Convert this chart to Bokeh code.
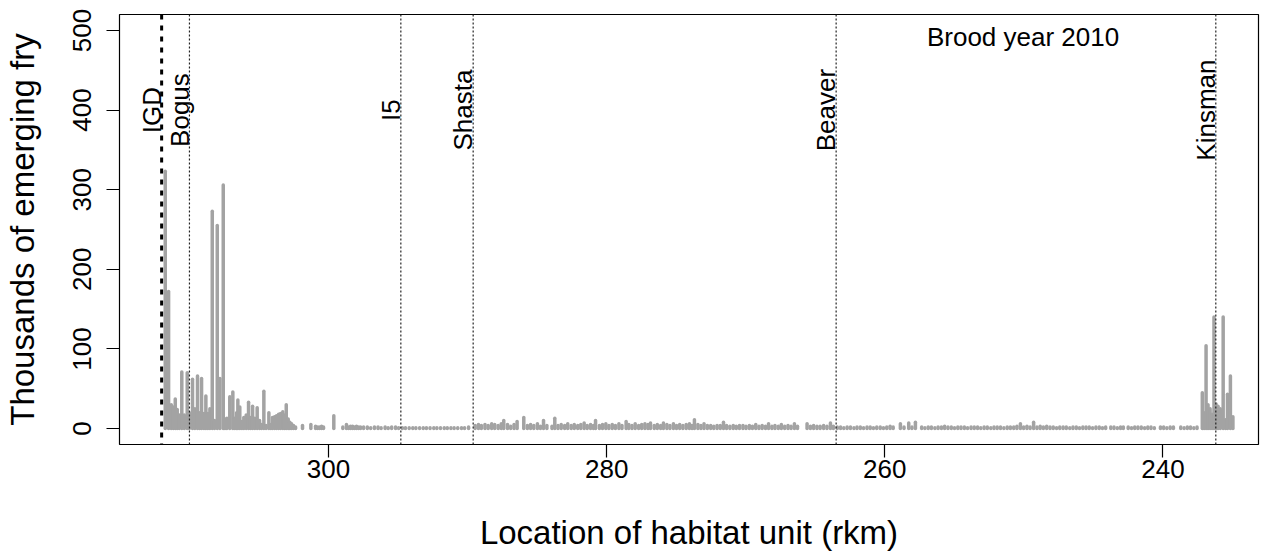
from math import pi

from bokeh.core.properties import value
from bokeh.embed import file_html
from bokeh.models import ColumnDataSource, FixedTicker, Range1d, Span
from bokeh.plotting import figure
from bokeh.resources import INLINE

# Emerging fry (thousands) per habitat unit, as (rkm, fry) pairs, by reach.
reach_igd_i5 = [
    (311.74, 323), (311.50, 172), (311.31, 30), (311.16, 27), (311.02, 37),
    (310.88, 24), (310.73, 17), (310.55, 71), (310.37, 17), (310.16, 70),
    (310.01, 20), (309.78, 62), (309.61, 25), (309.42, 66), (309.27, 20),
    (309.13, 63), (308.96, 19), (308.82, 41), (308.68, 19), (308.53, 25),
    (308.36, 273), (308.20, 10), (308.00, 255), (307.81, 63), (307.57, 306),
    (307.45, 12), (307.31, 13), (307.10, 40), (306.88, 46), (306.74, 13),
    (306.61, 20), (306.52, 36), (306.38, 27), (306.23, 9), (306.09, 14),
    (305.92, 17), (305.75, 33), (305.61, 14), (305.46, 28), (305.30, 13),
    (305.13, 26), (304.96, 10), (304.82, 5), (304.65, 47), (304.49, 4),
    (304.29, 20), (304.15, 5), (304.03, 14), (303.88, 15), (303.74, 16),
    (303.59, 18), (303.45, 19), (303.29, 21), (303.16, 17), (303.04, 30),
    (302.90, 12), (302.78, 8), (302.66, 6), (302.52, 4), (302.37, 2),
    (301.87, 4), (301.27, 5), (300.93, 3), (300.79, 2), (300.65, 2),
    (300.50, 3), (300.36, 2), (299.62, 16), (298.97, 2), (298.71, 5),
    (298.56, 2), (298.42, 3), (298.27, 3), (298.13, 2), (297.99, 3),
    (297.84, 2), (297.70, 2),
]

reach_i5_shasta = [
    (297.48, 2), (297.21, 2), (296.97, 1), (296.70, 2), (296.44, 2),
    (296.22, 1), (295.93, 2), (295.71, 1), (295.46, 2), (295.18, 2),
    (294.96, 1), (294.69, 1), (294.47, 1), (294.20, 1), (293.94, 1),
    (293.72, 1), (293.45, 1), (293.19, 1), (292.96, 1), (292.70, 1),
    (292.43, 1), (292.21, 1), (291.95, 1), (291.68, 1), (291.46, 1),
    (291.20, 1), (290.97, 1), (290.71, 1), (290.44, 1), (290.22, 1),
    (289.93, 2),
]

reach_shasta_beaver = [
    (289.46, 4), (289.22, 5), (289.01, 4), (288.75, 5), (288.52, 4),
    (288.27, 6), (288.05, 5), (287.80, 4), (287.58, 6), (287.40, 10),
    (287.13, 5), (286.90, 3), (286.66, 5), (286.44, 9), (285.96, 14),
    (285.70, 4), (285.47, 5), (285.24, 4), (284.98, 6), (284.76, 3),
    (284.54, 10), (284.30, 4), (283.93, 3), (283.73, 13), (283.50, 4),
    (283.27, 5), (283.02, 4), (282.80, 6), (282.55, 4), (282.33, 5),
    (282.08, 4), (281.86, 5), (281.62, 7), (281.40, 4), (281.16, 5),
    (280.95, 4), (280.80, 10), (280.52, 4), (280.30, 5), (280.06, 6),
    (279.84, 4), (279.60, 5), (279.37, 4), (279.12, 6), (278.90, 4),
    (278.60, 9), (278.41, 5), (278.18, 4), (277.95, 6), (277.70, 4),
    (277.48, 5), (277.25, 6), (277.03, 5), (276.85, 7), (276.58, 4),
    (276.36, 5), (276.12, 4), (275.92, 7), (275.67, 5), (275.45, 4),
    (275.20, 6), (274.98, 4), (274.75, 5), (274.52, 4), (274.28, 5),
    (274.05, 6), (273.86, 4), (273.69, 11), (273.44, 5), (273.22, 4),
    (273.00, 6), (272.76, 4), (272.52, 4), (272.30, 3), (272.06, 4),
    (271.83, 4), (271.60, 8), (271.38, 4), (271.14, 3), (270.90, 4),
    (270.68, 3), (270.45, 4), (270.20, 4), (269.98, 3), (269.74, 4),
    (269.52, 3), (269.28, 5), (269.05, 3), (268.82, 4), (268.58, 3),
    (268.36, 6), (268.12, 3), (267.90, 4), (267.66, 3), (267.44, 5),
    (267.20, 3), (266.96, 4), (266.74, 3), (266.50, 6), (266.28, 3),
    (265.59, 6), (265.35, 3), (265.12, 4), (264.88, 3), (264.65, 3),
    (264.40, 4), (264.16, 3), (263.91, 7), (263.70, 3),
]

reach_beaver_kinsman = [
    (263.42, 2), (263.18, 2), (262.95, 1), (262.71, 2), (262.47, 2),
    (262.22, 1), (262.00, 2), (261.76, 2), (261.53, 1), (261.28, 2),
    (261.05, 2), (260.82, 1), (260.58, 2), (260.33, 2), (260.10, 1),
    (259.86, 2), (259.62, 3), (259.40, 2), (258.88, 6), (258.62, 2),
    (258.28, 7), (258.05, 2), (257.80, 8), (257.35, 2), (257.12, 1),
    (256.88, 2), (256.65, 2), (256.40, 1), (256.17, 2), (255.93, 2),
    (255.70, 3), (255.46, 2), (255.22, 2), (254.99, 1), (254.75, 2),
    (254.52, 2), (254.28, 2), (254.05, 1), (253.80, 2), (253.57, 2),
    (253.33, 2), (253.10, 1), (252.86, 2), (252.63, 2), (252.38, 1),
    (252.15, 2), (251.92, 2), (251.68, 2), (251.44, 1), (251.20, 2),
    (250.97, 2), (250.73, 2), (250.50, 3), (250.25, 6), (250.02, 2),
    (249.78, 3), (249.55, 2), (249.30, 8), (249.06, 2), (248.83, 3),
    (248.60, 2), (248.36, 3), (248.12, 2), (247.89, 2), (247.65, 1),
    (247.42, 2), (247.18, 2), (246.95, 2), (246.70, 1), (246.47, 2),
    (246.23, 2), (246.00, 1), (245.76, 2), (245.53, 2), (245.30, 2),
    (245.06, 1), (244.82, 2), (244.58, 2), (244.35, 1), (244.12, 2),
    (243.75, 2), (243.52, 2), (243.28, 1), (243.05, 2), (242.85, 2),
    (242.50, 2), (242.26, 1), (242.03, 2), (241.80, 2), (241.56, 2),
    (241.32, 1), (241.09, 2), (240.86, 2), (240.62, 1), (240.18, 2),
    (239.95, 2), (239.72, 1), (239.48, 2), (239.25, 2), (238.72, 2),
    (238.48, 1), (238.25, 2), (238.02, 2), (237.78, 1), (237.55, 2),
]

reach_kinsman = [
    (237.17, 45), (237.04, 20), (236.90, 104), (236.76, 30), (236.61, 25),
    (236.47, 18), (236.33, 140), (236.18, 31), (236.04, 28), (235.88, 25),
    (235.67, 140), (235.50, 11), (235.36, 43), (235.15, 66), (234.97, 15),
]

# Landmarks along the river (rkm)
landmark_names = ["IGD", "Bogus", "I5", "Shasta", "Beaver", "Kinsman"]
landmark_rkm = [312.0, 310.0, 294.8, 289.6, 263.5, 236.2]

y_ticks = [0, 100, 200, 300, 400, 500]
x_ticks = [300, 280, 260, 240]

FONT = "Liberation Sans"

units = (reach_igd_i5 + reach_i5_shasta + reach_shasta_beaver
         + reach_beaver_kinsman + reach_kinsman)
bars = ColumnDataSource(dict(
    rkm=[u[0] for u in units],
    fry=[u[1] for u in units],
    base=[0] * len(units),
))

p = figure(
    width=1263, height=554,
    x_range=Range1d(315.03, 233.13),
    y_range=Range1d(-20, 520),
    output_backend="svg", toolbar_location=None,
    min_border_left=119, min_border_right=5,
    min_border_top=14, min_border_bottom=110,
)
p.grid.visible = False
p.outline_line_color = "black"
p.outline_line_width = 1.2
p.background_fill_color = "white"
p.border_fill_color = "white"

# fry counts drawn as vertical lines from zero
p.segment(x0="rkm", y0="base", x1="rkm", y1="fry", source=bars,
          line_color="#a3a3a3", line_width=3.5, line_cap="round")

# landmark reference lines
for name, loc in zip(landmark_names, landmark_rkm):
    if name == "IGD":
        span = Span(location=loc, dimension="height", line_color="black",
                    line_width=3, line_dash="5 6")
    else:
        span = Span(location=loc, dimension="height", line_color="#222222",
                    line_width=1.2, line_dash="2 2")
    p.add_layout(span)

labels = ColumnDataSource(dict(
    x=[loc + 0.7 for loc in landmark_rkm],
    y=[400] * len(landmark_rkm),
    text=landmark_names,
))
p.text(x="x", y="y", text="text", source=labels, angle=pi / 2,
       text_align="center", text_baseline="alphabetic",
       text_font=value(FONT), text_font_size="26px", text_color="black")

p.text(x=[250.06], y=[492], text=["Brood year 2010"],
       text_align="center", text_baseline="middle",
       text_font=value(FONT), text_font_size="26px", text_color="black")

# axes in the style of base R graphics
for ax in (p.xaxis[0], p.yaxis[0]):
    ax.axis_line_color = None
    ax.major_tick_line_color = "black"
    ax.major_tick_line_width = 1.2
    ax.major_tick_in = 0
    ax.major_tick_out = 13
    ax.minor_tick_line_color = None
    ax.major_label_text_font = FONT
    ax.major_label_text_font_size = "26px"
    ax.major_label_text_color = "black"
    ax.axis_label_text_font = FONT
    ax.axis_label_text_font_size = "33px"
    ax.axis_label_text_font_style = "normal"
    ax.axis_label_text_color = "black"

p.xaxis.ticker = FixedTicker(ticks=x_ticks)
p.yaxis.ticker = FixedTicker(ticks=y_ticks)
p.xaxis.axis_label = "Location of habitat unit (rkm)"
p.yaxis.axis_label = "Thousands of emerging fry"
p.xaxis.major_label_standoff = 2
p.xaxis.axis_label_standoff = 33
p.yaxis.major_label_standoff = 15
p.yaxis.axis_label_standoff = 30
p.yaxis.major_label_orientation = "vertical"

open("out.html", "w").write(file_html(p, INLINE))
